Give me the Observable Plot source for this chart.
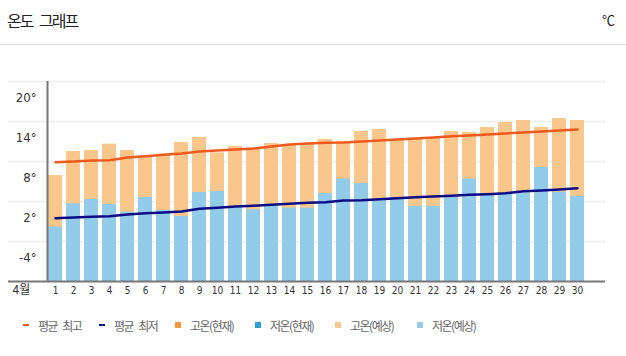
<!DOCTYPE html>
<html>
<head>
<meta charset="utf-8">
<script src="https://cdn.jsdelivr.net/npm/d3@7"></script>
<script src="https://cdn.jsdelivr.net/npm/@observablehq/plot@0.6"></script>
<style>
  html, body { margin: 0; padding: 0; background: #fff; }
  #wrap { position: relative; width: 626px; height: 356px; overflow: hidden; font-family: "Noto Sans CJK KR", "Noto Sans", sans-serif; }
  #header { position: absolute; left: 0; top: 0; width: 626px; height: 44px; border-bottom: 1px solid #dcdcdc; }
  #title { position: absolute; left: 7px; top: 8px; font-size: 16px; letter-spacing: -2px; word-spacing: 5px; color: #222; line-height: 24px; }
  #unit { position: absolute; right: 12px; top: 8px; font-size: 13px; color: #222; line-height: 24px; letter-spacing: -1px; }
  #chart { position: absolute; left: 0; top: 45px; }
  #legend { position: absolute; left: 0; top: 316px; width: 626px; height: 20px; }
  .item { position: absolute; top: 0; height: 18px; display: flex; align-items: center; font-size: 12px; letter-spacing: -1.5px; word-spacing: 4px; color: #666; white-space: pre; }
  .mk { display: inline-block; margin-right: 9px; }
</style>
</head>
<body>
<div id="wrap">
  <div id="header"><div id="title">온도 그래프</div><div id="unit">℃</div></div>
  <div id="chart"></div>
  <div id="legend"></div>
</div>
<script>
// ---- data ----
const days = [1,2,3,4,5,6,7,8,9,10,11,12,13,14,15,16,17,18,19,20,21,22,23,24,25,26,27,28,29,30];
const highForecast = [5.9,9.5,9.65,10.6,9.65,8.8,8.9,10.85,11.6,9.3,10.25,9.95,10.7,10.55,10.55,11.3,11.0,12.5,12.8,11.15,11.45,11.5,12.5,12.35,13.1,13.85,14.15,13.1,14.45,14.15];
const lowForecast = [-1.85,1.65,2.3,1.55,0.4,2.6,0.65,-0.25,3.35,3.5,1.25,0.75,1.3,1.0,1.0,3.2,5.35,4.7,2.25,2.6,1.25,1.25,2.65,5.35,3.15,3.25,3.3,7.1,3.4,2.75];
const avgHigh = [7.9,8.0,8.15,8.2,8.6,8.8,9.0,9.2,9.5,9.65,9.8,9.95,10.25,10.55,10.7,10.8,10.85,11.0,11.15,11.3,11.45,11.6,11.8,11.9,12.05,12.2,12.35,12.5,12.65,12.8];
const avgLow = [-0.5,-0.4,-0.3,-0.2,0.05,0.25,0.35,0.5,0.9,1.05,1.25,1.35,1.5,1.65,1.8,1.9,2.15,2.2,2.35,2.5,2.65,2.75,2.85,3.0,3.1,3.25,3.55,3.65,3.8,4.0];
const yTicks = [20, 14, 8, 2, -4];
const yMin = -10, yMax = 20;
const monthLabel = "4월";
const legendLabels = ["평균 최고", "평균 최저", "고온(현재)", "저온(현재)", "고온(예상)", "저온(예상)"];
const legendColors = ["#ef5a1c", "#0b0b86", "#f7963c", "#2a9fd6", "#f9c68b", "#93cbea"];
const legendKinds = ["line", "line", "box", "box", "box", "box"];
const legendX = [23, 99, 175, 255, 335, 417];

const rows = days.map((d, i) => ({day: d, high: highForecast[i], low: lowForecast[i], ah: avgHigh[i], al: avgLow[i]}));

const numFont = '"Liberation Sans Narrow", "DejaVu Sans Condensed", sans-serif';

const chart = Plot.plot({
  width: 626,
  height: 260,
  marginTop: 36,
  marginBottom: 24,
  marginLeft: 8,
  marginRight: 21,
  x: {type: "band", domain: days, paddingInner: 0.22, paddingOuter: 1.6933, align: 0.6558, axis: null},
  y: {domain: [yMin, yMax], axis: null},
  style: {fontFamily: numFont, background: "#fff", overflow: "visible"},
  marks: [
    Plot.ruleY(yTicks, {stroke: "#efefef", strokeWidth: 2}),
    Plot.barY(rows, {x: "day", y1: yMin, y2: "high", fill: "#f9c68b"}),
    Plot.barY(rows, {x: "day", y1: yMin, y2: "low", fill: "#93cbea"}),
    Plot.lineY(rows, {x: "day", y: "ah", stroke: "#ef5a1c", strokeWidth: 2.5, curve: "linear"}),
    Plot.lineY(rows, {x: "day", y: "al", stroke: "#0b0b86", strokeWidth: 2.5, curve: "linear"}),
    Plot.ruleY([yMin], {stroke: "#777", strokeWidth: 2}),
    Plot.ruleX([days[0]], {x: d => d, y1: yMin, y2: yMax, dx: -8, stroke: "#777", strokeWidth: 2}),
    Plot.text(yTicks, {y: d => d, text: d => d + "°", frameAnchor: "left", dx: 28, dy: 16, textAnchor: "end", fontSize: 13, fill: "#333"}),
    Plot.text(days, {x: d => d, text: d => String(d), frameAnchor: "bottom", dy: 12, fontSize: 10, fill: "#333"}),
    Plot.text([monthLabel], {text: d => d, frameAnchor: "bottom-left", dx: 4, dy: 12, textAnchor: "start", fontSize: 12, fill: "#333", fontFamily: '"Noto Sans CJK KR", sans-serif'})
  ]
});
document.getElementById("chart").appendChild(chart);

const legend = document.getElementById("legend");
legendLabels.forEach((lab, i) => {
  const it = document.createElement("div");
  it.className = "item";
  it.style.left = legendX[i] + "px";
  const mk = document.createElement("span");
  mk.className = "mk";
  if (legendKinds[i] === "line") { mk.style.width = "6px"; mk.style.height = "2px"; }
  else { mk.style.width = "6px"; mk.style.height = "6px"; }
  mk.style.background = legendColors[i];
  it.appendChild(mk);
  const t = document.createElement("span");
  t.textContent = lab;
  it.appendChild(t);
  legend.appendChild(it);
});
</script>
</body>
</html>
